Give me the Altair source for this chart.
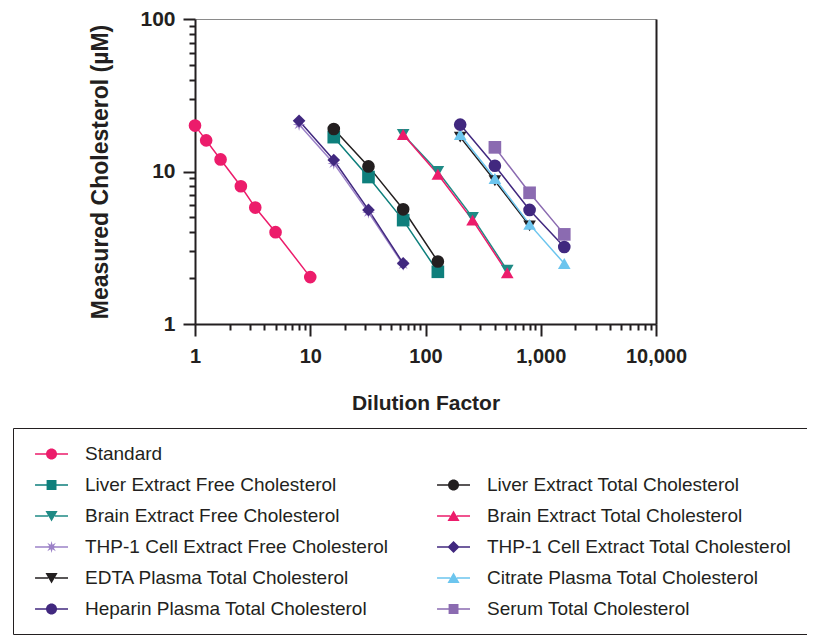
import math
import altair as alt
import pandas as pd

# ---------------- data ----------------
series_order = [
    "Standard", " ",
    "Liver Extract Free Cholesterol", "Liver Extract Total Cholesterol",
    "Brain Extract Free Cholesterol", "Brain Extract Total Cholesterol",
    "THP-1 Cell Extract Free Cholesterol", "THP-1 Cell Extract Total Cholesterol",
    "EDTA Plasma Total Cholesterol", "Citrate Plasma Total Cholesterol",
    "Heparin Plasma Total Cholesterol", "Serum Total Cholesterol",
]

standard_x = [1, 1.25, 1.667, 2.5, 3.333, 5, 10]
standard_y = [20, 16, 12, 8, 5.8, 4, 2.03]

liver_free_x = [16, 32, 64, 128]
liver_free_y = [16.8, 9.2, 4.8, 2.2]
liver_total_x = [16, 32, 64, 128]
liver_total_y = [19.0, 10.8, 5.65, 2.57]

brain_free_x = [64, 128, 256, 512]
brain_free_y = [17.5, 10.0, 5.0, 2.25]
brain_total_x = [64, 128, 256, 512]
brain_total_y = [17.5, 9.6, 4.8, 2.17]

thp1_free_x = [8, 16, 32, 64]
thp1_free_y = [20.3, 11.3, 5.4, 2.45]
thp1_total_x = [8, 16, 32, 64]
thp1_total_y = [21.5, 11.9, 5.6, 2.5]

edta_x = [200, 400, 800]
edta_y = [16.8, 8.7, 4.4]
citrate_x = [200, 400, 800, 1600]
citrate_y = [17.5, 9.0, 4.5, 2.49]
heparin_x = [200, 400, 800, 1600]
heparin_y = [20.3, 10.9, 5.6, 3.2]
serum_x = [400, 800, 1600]
serum_y = [14.4, 7.25, 3.87]

x_ticks = [m * 10 ** e for e in range(4) for m in range(1, 10)] + [10000]
y_ticks = [m * 10 ** e for e in range(2) for m in range(1, 10)] + [100]

# ---------------- styling ----------------
colors = {
    "Standard": "#EC1C6B", " ": "transparent",
    "Liver Extract Free Cholesterol": "#0E7F7C",
    "Liver Extract Total Cholesterol": "#231F20",
    "Brain Extract Free Cholesterol": "#1F8A85",
    "Brain Extract Total Cholesterol": "#EC1C6B",
    "THP-1 Cell Extract Free Cholesterol": "#9C82C8",
    "THP-1 Cell Extract Total Cholesterol": "#41287F",
    "EDTA Plasma Total Cholesterol": "#231F20",
    "Citrate Plasma Total Cholesterol": "#6CC5EE",
    "Heparin Plasma Total Cholesterol": "#41287F",
    "Serum Total Cholesterol": "#8B6BB1",
}


def star(scale=1.0, dx=0.0):
    pts = []
    for i in range(16):
        r = 1.0 if i % 2 == 0 else 0.42
        a = -math.pi / 2 + i * math.pi / 8
        pts.append((dx + scale * r * math.cos(a), scale * r * math.sin(a)))
    return "M" + "L".join(f"{x:.3f},{y:.3f}" for x, y in pts) + "Z"


star_path = star()
# legend symbols: short line with the marker in its middle (units of 11 px)
L0, L1 = -0.36, 2.64
C = (L0 + L1) / 2
bars = (f"M{L0},-0.07H{C - 0.3:.3f}V0.07H{L0}Z"
        f"M{C + 0.3:.3f},-0.07H{L1}V0.07H{C + 0.3:.3f}Z")
lg = {
    "circle": bars + f"M{C + 0.5:.3f},0A0.5,0.5,0,1,1,{C - 0.5:.3f},0A0.5,0.5,0,1,1,{C + 0.5:.3f},0Z",
    "square": bars + f"M{C - 0.45:.3f},-0.45H{C + 0.45:.3f}V0.45H{C - 0.45:.3f}Z",
    "tdown": bars + f"M{C - 0.55:.3f},-0.45H{C + 0.55:.3f}L{C:.3f},0.5Z",
    "tup": bars + f"M{C:.3f},-0.5L{C + 0.55:.3f},0.45H{C - 0.55:.3f}Z",
    "diamond": bars + f"M{C:.3f},-0.55L{C + 0.55:.3f},0L{C:.3f},0.55L{C - 0.55:.3f},0Z",
    "star": bars + star(0.55, C),
    "none": "M0,0",
}

shapes = {
    "Standard": ("circle", lg["circle"]),
    " ": ("circle", lg["none"]),
    "Liver Extract Free Cholesterol": ("square", lg["square"]),
    "Liver Extract Total Cholesterol": ("circle", lg["circle"]),
    "Brain Extract Free Cholesterol": ("triangle-down", lg["tdown"]),
    "Brain Extract Total Cholesterol": ("triangle-up", lg["tup"]),
    "THP-1 Cell Extract Free Cholesterol": (star_path, lg["star"]),
    "THP-1 Cell Extract Total Cholesterol": ("diamond", lg["diamond"]),
    "EDTA Plasma Total Cholesterol": ("triangle-down", lg["tdown"]),
    "Citrate Plasma Total Cholesterol": ("triangle-up", lg["tup"]),
    "Heparin Plasma Total Cholesterol": ("circle", lg["circle"]),
    "Serum Total Cholesterol": ("square", lg["square"]),
}

# drawing order (bottom to top)
draw = [
    ("Standard", standard_x, standard_y),
    ("Liver Extract Free Cholesterol", liver_free_x, liver_free_y),
    ("Brain Extract Free Cholesterol", brain_free_x, brain_free_y),
    ("THP-1 Cell Extract Free Cholesterol", thp1_free_x, thp1_free_y),
    ("EDTA Plasma Total Cholesterol", edta_x, edta_y),
    ("Serum Total Cholesterol", serum_x, serum_y),
    ("Citrate Plasma Total Cholesterol", citrate_x, citrate_y),
    ("Heparin Plasma Total Cholesterol", heparin_x, heparin_y),
    ("Liver Extract Total Cholesterol", liver_total_x, liver_total_y),
    ("Brain Extract Total Cholesterol", brain_total_x, brain_total_y),
    ("THP-1 Cell Extract Total Cholesterol", thp1_total_x, thp1_total_y),
]
rows = []
k = 0
for name, xs, ys in draw:
    for xv, yv in zip(xs, ys):
        rows.append({"series": name, "x": xv, "y": yv, "z": k})
        k += 1
df = pd.DataFrame(rows)

FONT = "Liberation Sans"
INK = "#231F20"

color_scale = alt.Scale(domain=series_order, range=[colors[s] for s in series_order])
shape_scale = alt.Scale(domain=series_order, range=[shapes[s][0] for s in series_order])
legend_shape_scale = alt.Scale(domain=series_order, range=[shapes[s][1] for s in series_order])

xscale = alt.Scale(type="log", domain=[1, 10000], nice=False)
yscale = alt.Scale(type="log", domain=[1, 100], nice=False)

major = "abs(log(datum.value)/LN10 - round(log(datum.value)/LN10)) < 0.000001"
tick_size = {"condition": {"test": major, "value": 12}, "value": 6}

x_axis = alt.Axis(
    values=x_ticks, labelExpr=f"({major}) ? format(datum.value, ',') : ''",
    tickSize=tick_size, tickWidth=2, tickColor=INK, domainWidth=2, domainColor=INK,
    labelFont=FONT, labelFontSize=20, labelFontWeight="bold", labelColor=INK,
    labelPadding=10, labelFlush=False, labelOverlap=False, grid=False,
    title="Dilution Factor", titleFont=FONT, titleFontSize=21, titleFontWeight="bold",
    titleColor=INK, titlePadding=26,
)
y_axis = alt.Axis(
    values=y_ticks, labelExpr=f"({major}) ? format(datum.value, ',') : ''",
    tickSize=tick_size, tickWidth=2, tickColor=INK, domainWidth=2, domainColor=INK,
    labelFont=FONT, labelFontSize=21, labelFontWeight="bold", labelColor=INK,
    labelPadding=8, labelFlush=False, labelOverlap=False, grid=False,
    title="Measured Cholesterol (µM)", titleFont=FONT, titleFontSize=23,
    titleFontWeight="bold", titleColor=INK, titlePadding=27,
)

base = alt.Chart(df)

lines = base.mark_line(strokeWidth=1.5).encode(
    x=alt.X("x:Q", scale=xscale, axis=x_axis),
    y=alt.Y("y:Q", scale=yscale, axis=y_axis),
    color=alt.Color("series:N", scale=color_scale, legend=None),
    detail="series:N",
)

points = base.mark_point(filled=True, size=160, opacity=1, strokeWidth=0).encode(
    x=alt.X("x:Q", scale=xscale, axis=None),
    y=alt.Y("y:Q", scale=yscale, axis=None),
    color=alt.Color("series:N", scale=color_scale, legend=None),
    shape=alt.Shape("series:N", scale=shape_scale, legend=None),
    order=alt.Order("z:Q"),
)

legend = alt.Legend(
    title=None, orient="none", legendX=-182, legendY=409, columns=2,
    direction="horizontal",
    columnPadding=41, rowPadding=10, symbolSize=484, symbolStrokeWidth=0,
    symbolOpacity=1, labelFont=FONT, labelFontSize=19, labelColor=INK,
    labelOffset=35, labelLimit=500, padding=15, strokeColor=INK,
)

legend_layer = base.mark_point(filled=True, size=484, opacity=0).encode(
    x=alt.X("x:Q", scale=xscale, axis=alt.Axis(orient="top", labels=False, ticks=False,
                                                domainColor="#8A8A8A", domainWidth=1,
                                                title=None, grid=False)),
    y=alt.Y("y:Q", scale=yscale, axis=alt.Axis(orient="right", labels=False, ticks=False,
                                                domainColor=INK, domainWidth=2,
                                                title=None, grid=False)),
    color=alt.Color("series:N", scale=color_scale, legend=legend),
    shape=alt.Shape("series:N", scale=legend_shape_scale, legend=legend),
)

chart = (
    alt.layer(lines, points, legend_layer)
    .resolve_scale(shape="independent", color="independent")
    .resolve_axis(x="independent", y="independent")
    .properties(
        width=461, height=305,
        padding={"left": 187, "top": 11, "right": 151, "bottom": 311},
        autosize=alt.AutoSizeParams(type="none"),
    )
    .configure_view(stroke=None)
    .configure(background="white")
)

chart.save("out.html", embed_options={"renderer": "svg", "actions": False})
